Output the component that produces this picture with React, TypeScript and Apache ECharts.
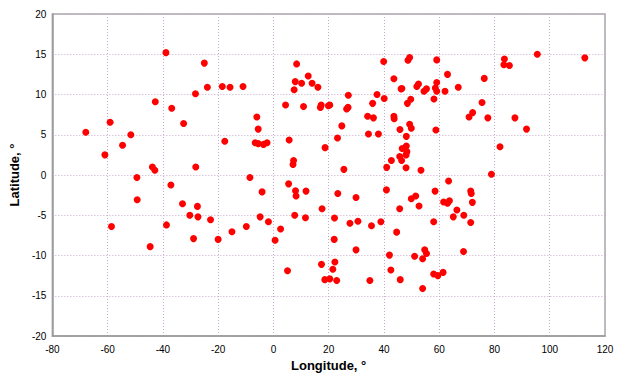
import React, { useEffect, useRef } from "react";
import * as echarts from "echarts";

// Longitude (°) of each observation
const longitudes: number[] = [
  -67.9, -59.1, -61.0, -54.6, -51.6, -49.4, -43.8, -42.9, -42.75, -38.9,
  -36.8, -32.5, -37.1, -28.2, -25.0, -23.9, -28.1, -49.3, -32.9, -27.5,
  -30.25, -27.3, -22.75, -58.6, -38.7, -28.9, -44.6, -18.5, -15.7, -11.0,
  -6.0, -5.5, -17.6, -6.6, -5.5, -3.6, -2.3, -8.5, 4.4, 8.4,
  7.9, 10.2, 12.6, 14.0, 16.1, 7.5, 10.9, 17.0, 17.3, 19.9,
  20.4, 5.7, 7.3, 7.1, 5.5, 8.0, 8.2, 11.8, 27.1, 26.5,
  27.0, 24.75, 23.2, 18.7, 25.5, 39.9, 43.6, 37.5, 40.1, 35.9,
  34.1, 36.2, 34.4, 38.0, 43.6, 43.7, 46.2, 46.5, 48.7, 49.3,
  48.5, 49.7, 45.8, 49.3, 49.9, 48.1, 48.1, 46.6, 48.3, 48.0,
  45.7, 46.4, 42.7, 41.0, 48.0, 40.9, 59.1, 63.0, 52.5, 51.9,
  55.4, 54.5, 59.1, 58.6, 59.1, 62.1, 66.9, 76.3, 58.1, 75.5,
  72.1, 70.8, 77.6, 87.4, 91.6, 58.8, 53.4, 82.0, 78.9, 63.4,
  58.5, 71.4, 71.6, 83.6, 83.4, 85.4, 95.5, 112.7, -4.1, 23.3,
  29.9, 49.9, 51.5, 45.7, 17.6, -4.8, -1.8, 7.7, 11.6, 22.1,
  -15.0, -9.8, -20.0, 2.6, 0.6, 27.7, 30.6, 35.5, 38.9, 44.6,
  22.0, 29.9, 42.0, 51.1, 17.4, 22.25, 21.5, 5.1, 42.5, 18.6,
  20.4, 22.9, 34.9, 45.9, 52.7, 61.6, 63.7, 63.0, 72.0, 66.4,
  68.9, 65.1, 71.4, 58.0, 68.8, 54.75, 55.4, 54.0, 58.0, 59.5,
  61.4, 54.0,
];

// Latitude (°) of each observation, same order
const latitudes: number[] = [
  5.3, 6.55, 2.5, 3.7, 5.0, -0.3, 1.0, 0.6, 9.1, 15.2,
  8.3, 6.4, -1.25, 10.1, 13.9, 10.9, 1.0, -3.07, -3.57, -3.9,
  -5.0, -5.2, -5.55, -6.4, -6.2, -7.9, -8.9, 11.0, 10.9, 11.0,
  7.2, 5.7, 4.2, 4.0, 3.9, 3.8, 4.0, -0.3, 8.7, 13.8,
  11.6, 11.4, 12.3, 11.4, 10.9, 10.6, 8.5, 8.4, 8.7, 8.6,
  8.7, 4.35, 1.8, 1.3, -1.1, -1.95, -2.6, -2.0, 9.9, 8.2,
  8.4, 6.1, 4.6, 3.4, 0.7, 14.1, 11.95, 10.0, 9.5, 8.9,
  7.3, 7.1, 5.1, 5.1, 7.3, 7.0, 10.7, 10.75, 14.25, 14.6,
  8.9, 9.4, 5.65, 6.3, 5.8, 4.8, 3.6, 3.3, 2.9, 2.5,
  2.3, 1.8, 1.8, 0.95, 0.9, -1.85, 14.3, 12.5, 11.3, 11.0,
  10.7, 10.4, 11.5, 10.8, 10.4, 10.4, 10.9, 12.0, 9.45, 9.0,
  7.75, 7.2, 7.1, 7.1, 5.7, 5.6, 0.6, 3.5, 0.1, -0.75,
  -2.0, -2.0, -2.3, 14.4, 13.7, 13.6, 15.0, 14.55, -2.1, -2.3,
  -2.8, -2.95, -2.6, -4.2, -4.2, -5.2, -5.8, -5.0, -5.3, -5.35,
  -7.05, -6.4, -8.0, -6.7, -8.1, -6.0, -5.75, -6.3, -5.8, -7.1,
  -8.0, -9.3, -9.95, -10.1, -11.1, -10.8, -11.7, -11.9, -11.8, -13.0,
  -12.9, -13.1, -13.1, -13.0, -3.85, -3.35, -3.2, -3.5, -3.4, -4.35,
  -5.0, -5.2, -5.9, -5.8, -9.5, -9.3, -9.75, -10.4, -12.3, -12.5,
  -12.1, -14.1,
];

const xTitle = "Longitude, °";
const yTitle = "Latitude, °";

export default function App() {
  const ref = useRef<HTMLDivElement>(null);

  useEffect(() => {
    if (!ref.current) return;
    const chart = echarts.init(ref.current, undefined, { renderer: "svg" });
    const data = longitudes.map((lon, i) => [lon, latitudes[i]]);
    const font = "Arial, 'Liberation Sans', sans-serif";
    const gridLine = { show: true, lineStyle: { color: "#c8a8d0", type: [1, 2] as any, width: 1 } };
    chart.setOption({
      animation: false,
      backgroundColor: "#ffffff",
      grid: {
        left: 45,
        right: 18,
        top: 14,
        bottom: 42,
        show: true,
        borderColor: "#a8a8a8",
        borderWidth: 1.5,
      },
      xAxis: {
        type: "value",
        min: -80,
        max: 120,
        interval: 20,
        name: xTitle,
        nameLocation: "middle",
        nameGap: 21,
        nameTextStyle: { fontFamily: font, fontSize: 13, fontWeight: "bold", color: "#000" },
        axisLine: { show: true, onZero: false, lineStyle: { color: "#999", width: 1.5 } },
        axisTick: { show: false },
        axisLabel: { fontFamily: font, fontSize: 10, color: "#000", margin: 8 },
        splitLine: gridLine,
      },
      yAxis: {
        type: "value",
        min: -20,
        max: 20,
        interval: 5,
        name: yTitle,
        nameLocation: "middle",
        nameGap: 25,
        nameTextStyle: { fontFamily: font, fontSize: 13, fontWeight: "bold", color: "#000" },
        axisLine: { show: true, onZero: false, lineStyle: { color: "#999", width: 1.5 } },
        axisTick: { show: false },
        axisLabel: { fontFamily: font, fontSize: 10, color: "#000", margin: 6 },
        splitLine: gridLine,
      },
      series: [
        {
          type: "scatter",
          data,
          symbol: "circle",
          symbolSize: 7,
          itemStyle: { color: "#ff0000", opacity: 1 },
        },
      ],
    });
    return () => chart.dispose();
  }, []);

  return <div ref={ref} style={{ width: 623, height: 378, position: "absolute", left: 0, top: 0 }} />;
}
